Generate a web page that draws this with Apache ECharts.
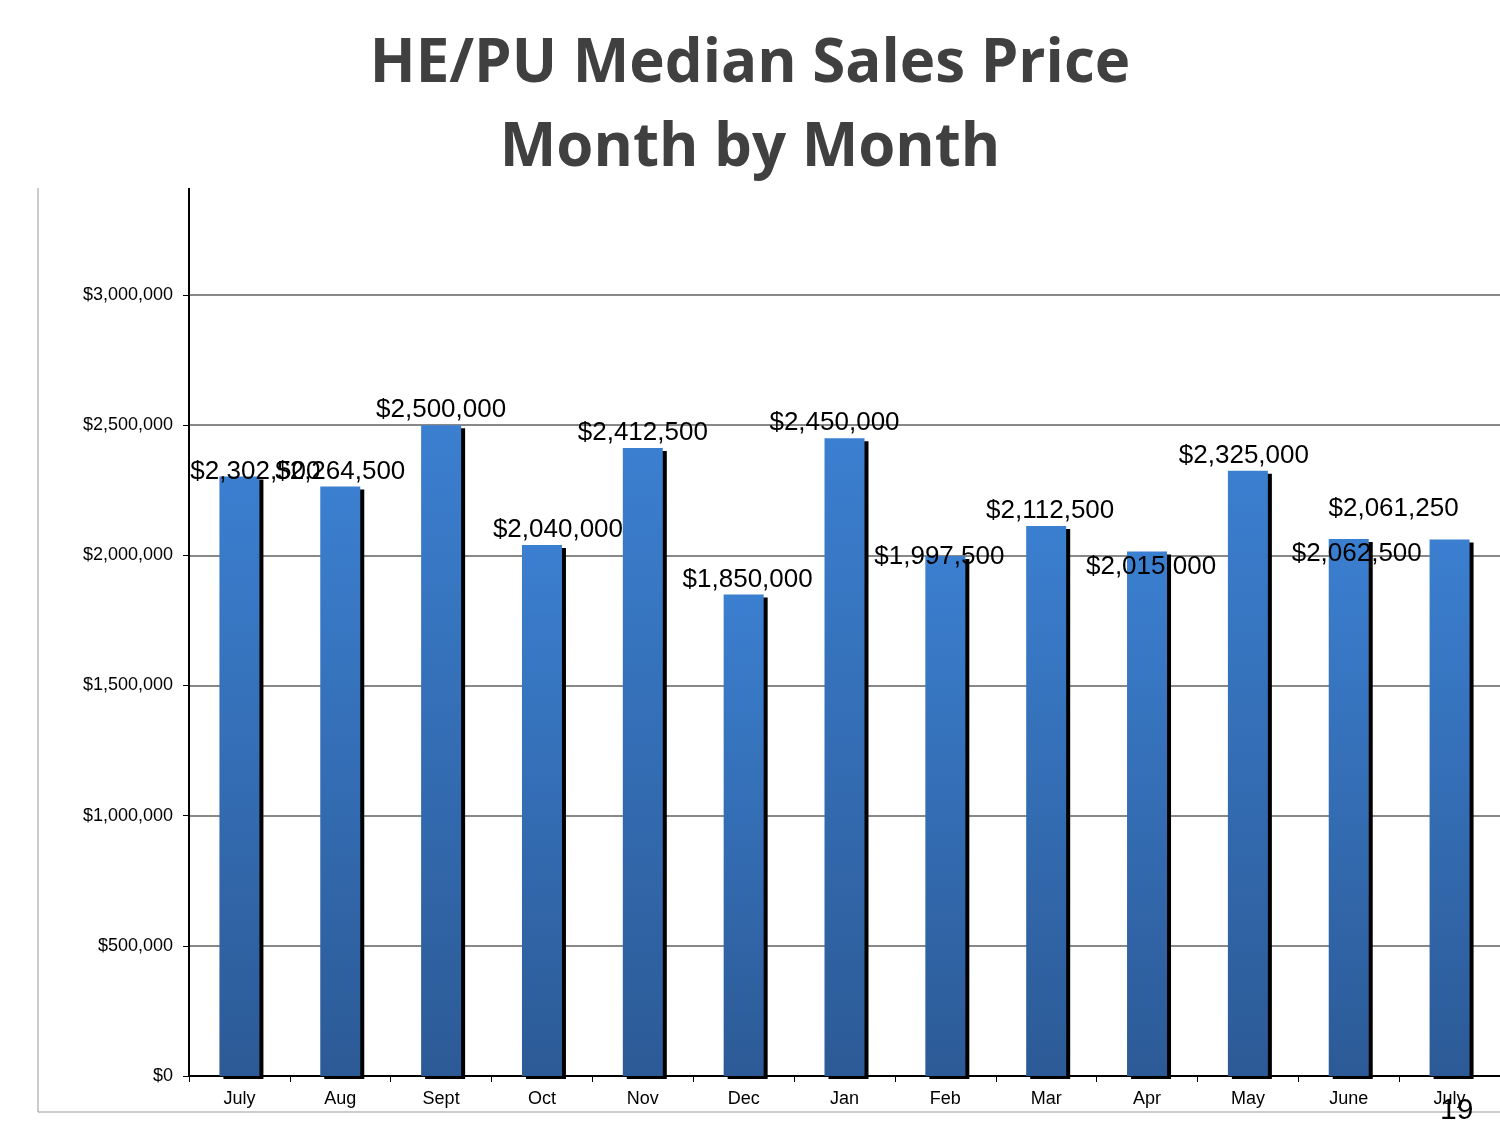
<!DOCTYPE html>
<html><head><meta charset="utf-8">
<script src="https://cdn.jsdelivr.net/npm/echarts@6/dist/echarts.min.js"></script>
<style>html,body{margin:0;padding:0;background:#fff}#main{width:1500px;height:1125px}</style>
</head><body><div id="main"></div>
<script>
var myChart = echarts.init(document.getElementById('main'));

const months = ['July', 'Aug', 'Sept', 'Oct', 'Nov', 'Dec', 'Jan', 'Feb', 'Mar', 'Apr', 'May', 'June', 'July']
const prices = [2302500, 2264500, 2500000, 2040000, 2412500, 1850000, 2450000, 1997500, 2112500, 2015000, 2325000, 2062500, 2061250]
// label nudges so they sit like the original
const labelShift = [[16, 10], [0, 0], [0, 0], [16, 0], [0, 0], [4, 0], [-10, 0], [-6, 16], [4, 0], [4, 30], [-4, 0], [8, 30], [-56, -16]]

function money(v) {
    return '$' + v.toLocaleString('en-US')
}

option = {
    animation: false,
    title: {
        text: 'HE/PU Median Sales Price\nMonth by Month',
        left: 'center',
        top: 18,
        textStyle: { fontFamily: 'Open Sans', fontWeight: 'bold', fontSize: 60, lineHeight: 84, color: '#404040' }
    },
    grid: { left: 189, right: 0, top: 295, bottom: 49 },
    xAxis: {
        type: 'category',
        data: months,
        axisLine: { lineStyle: { color: '#000', width: 2 } },
        axisTick: { show: true, length: 6, inside: false, lineStyle: { color: '#000' } },
        axisLabel: { color: '#000', fontSize: 18, fontFamily: 'Liberation Sans', margin: 14 }
    },
    yAxis: {
        type: 'value',
        min: 0,
        max: 3000000,
        interval: 500000,
        axisLine: { show: true, lineStyle: { color: '#000', width: 2 } },
        axisTick: { show: true, length: 6, lineStyle: { color: '#000' } },
        axisLabel: { color: '#000', fontSize: 18, fontFamily: 'Liberation Sans', margin: 16, formatter: money },
        splitLine: { lineStyle: { color: '#888', width: 2 } }
    },
    series: [{
        type: 'bar',
        barWidth: 40,
        data: prices.map((v, i) => ({
            value: v,
            label: { offset: labelShift[i] }
        })),
        itemStyle: {
            color: new echarts.graphic.LinearGradient(0, 0, 0, 1, [
                { offset: 0, color: '#3b7fd0' },
                { offset: 1, color: '#2c5a96' }
            ]),
            shadowColor: '#000',
            shadowOffsetX: 4,
            shadowOffsetY: 3,
            shadowBlur: 0
        },
        label: {
            show: true,
            position: 'top',
            distance: 2,
            color: '#000',
            fontSize: 26,
            fontFamily: 'Liberation Sans',
            formatter: p => money(p.value)
        }
    }],
    graphic: [
        { type: 'line', shape: { x1: 189, y1: 188, x2: 189, y2: 296 }, style: { stroke: '#000', lineWidth: 2 } },
        { type: 'line', shape: { x1: 38, y1: 188, x2: 38, y2: 1112 }, style: { stroke: '#999', lineWidth: 1 } },
        { type: 'line', shape: { x1: 38, y1: 1112, x2: 1500, y2: 1112 }, style: { stroke: '#999', lineWidth: 1 } },
        { type: 'text', left: 1440, top: 1096, style: { text: '19', fontSize: 30, fontFamily: 'Liberation Sans', fill: '#000' } }
    ]
};

myChart.setOption(option);
</script></body></html>
